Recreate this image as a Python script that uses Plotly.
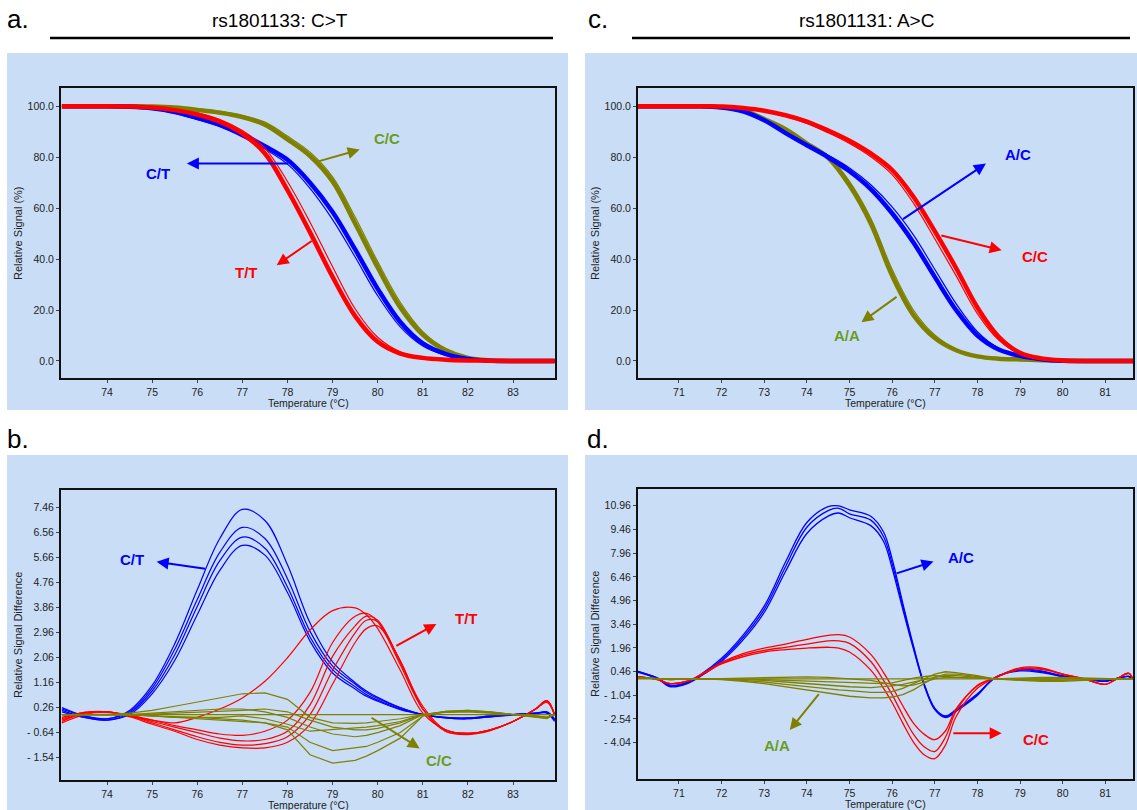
import plotly.graph_objects as go

# ---------------- rs1801133 (C>T): normalised melting curves ----------------
TEMP_A = [73.0, 73.5, 74.0, 74.5, 75.0, 75.5, 76.0, 76.5, 77.0, 77.5, 78.0, 78.5,
          79.0, 79.5, 80.0, 80.5, 81.0, 81.5, 82.0, 82.5, 83.0, 83.5, 83.92]
CC_A = [
    [100, 100, 100, 100, 99.9, 99.5, 98.6, 97.5, 95.8, 92.8, 87.0, 80.5,
     70.5, 54.0, 36.7, 21.0, 10.3, 4.3, 1.2, 0.2, 0, 0, 0],
    [100, 100, 100, 100, 99.9, 99.6, 98.9, 98.0, 96.4, 93.8, 88.3, 82.0,
     72.3, 56.5, 39.0, 23.0, 11.5, 4.8, 1.4, 0.3, 0, 0, 0],
]
CT_A = [
    [100, 100, 100, 99.8, 99.2, 97.8, 95.5, 92.8, 89.0, 84.3, 79.0, 70.0,
     58.5, 43.8, 28.3, 15.3, 6.9, 2.8, 0.8, 0.1, 0, 0, 0],
    [100, 100, 100, 99.7, 98.9, 97.3, 94.8, 92.0, 88.0, 83.2, 77.3, 67.8,
     55.5, 40.8, 25.6, 13.4, 5.9, 2.3, 0.6, 0.1, 0, 0, 0],
]
TT_A = [
    [100, 100, 100, 99.9, 99.5, 98.5, 96.8, 94.0, 89.3, 81.5, 67.1, 50.5,
     33.0, 17.6, 7.5, 2.9, 1.2, 0.5, 0.2, 0.1, 0, 0, 0],
    [100, 100, 100, 99.9, 99.6, 98.8, 97.3, 94.8, 90.5, 83.6, 70.5, 54.5,
     37.0, 20.5, 9.3, 3.6, 1.4, 0.6, 0.2, 0.1, 0, 0, 0],
]

# ---------------- rs1801133 (C>T): difference plot ----------------
TEMP_B = [73.0, 73.5, 74.0, 74.5, 75.0, 75.5, 76.0, 76.5, 77.0, 77.5, 78.0, 78.5,
          79.0, 79.5, 79.75, 80.0, 80.5, 81.0, 81.5, 82.0, 82.5, 83.0, 83.5, 83.75, 83.92]
CT_B = [
    [0.25, -0.05, -0.15, 0.15, 1.05, 2.55, 4.5, 6.35, 7.4, 7.0, 5.4, 3.3,
     1.9, 1.15, 0.85, 0.62, 0.25, 0.0, -0.1, -0.12, -0.05, 0.0, 0.05, 0.1, -0.15],
    [0.2, -0.05, -0.15, 0.1, 0.95, 2.35, 4.15, 5.85, 6.75, 6.35, 4.9, 3.0,
     1.75, 1.1, 0.8, 0.58, 0.24, 0.0, -0.1, -0.12, -0.05, 0.0, 0.05, 0.08, -0.2],
    [0.15, -0.1, -0.2, 0.05, 0.85, 2.15, 3.9, 5.55, 6.4, 6.0, 4.6, 2.8,
     1.62, 1.0, 0.72, 0.52, 0.2, 0.0, -0.12, -0.15, -0.08, 0.0, 0.05, 0.08, -0.2],
    [0.1, -0.1, -0.2, 0.0, 0.75, 1.95, 3.6, 5.2, 6.1, 5.75, 4.4, 2.65,
     1.5, 0.92, 0.66, 0.48, 0.18, 0.0, -0.12, -0.15, -0.08, -0.02, 0.03, 0.05, -0.25],
]
TT_B = [
    [-0.1, 0.08, 0.1, -0.05, -0.2, -0.3, -0.1, 0.2, 0.6, 1.2, 2.05, 3.05,
     3.75, 3.85, 3.6, 3.1, 1.6, 0.05, -0.55, -0.68, -0.55, -0.25, 0.2, 0.5, 0.0],
    [-0.15, 0.08, 0.1, -0.02, -0.2, -0.4, -0.55, -0.7, -0.75, -0.6, -0.2, 0.8,
     2.6, 3.55, 3.65, 3.35, 1.8, 0.2, -0.55, -0.68, -0.55, -0.25, 0.2, 0.5, 0.0],
    [-0.2, 0.05, 0.1, -0.05, -0.25, -0.45, -0.65, -0.85, -0.95, -0.9, -0.6, 0.35,
     2.1, 3.2, 3.55, 3.4, 1.9, 0.3, -0.55, -0.68, -0.55, -0.25, 0.2, 0.5, 0.0],
    [-0.25, 0.05, 0.1, -0.05, -0.3, -0.55, -0.8, -1.0, -1.1, -1.05, -0.8, 0.0,
     1.6, 2.95, 3.4, 3.35, 1.9, 0.2, -0.6, -0.7, -0.55, -0.25, 0.2, 0.45, 0.0],
    [-0.3, 0.0, 0.08, -0.08, -0.35, -0.6, -0.9, -1.1, -1.2, -1.2, -1.0, -0.35,
     1.1, 2.6, 3.1, 3.2, 1.95, 0.2, -0.6, -0.72, -0.58, -0.25, 0.2, 0.45, 0.0],
]
CC_B = [
    [0.0] * 25,
    [0.0, 0.0, 0.0, 0.05, 0.15, 0.3, 0.45, 0.6, 0.75, 0.78, 0.55, -0.1,
     -0.3, -0.32, -0.3, -0.25, -0.15, 0.0, 0.12, 0.15, 0.1, 0.0, -0.05, -0.1, 0.0],
    [0.0, 0.0, 0.0, 0.0, -0.05, -0.1, -0.1, -0.15, -0.2, -0.3, -0.55, -1.45,
     -1.75, -1.65, -1.5, -1.3, -0.85, -0.05, 0.12, 0.15, 0.1, 0.0, -0.1, -0.15, 0.0],
    [0.0, 0.0, 0.0, 0.0, -0.05, -0.1, -0.15, -0.2, -0.25, -0.3, -0.45, -1.0,
     -1.3, -1.2, -1.15, -1.0, -0.65, -0.05, 0.1, 0.12, 0.08, 0.0, -0.08, -0.12, 0.0],
    [0.0, 0.0, 0.0, 0.0, 0.05, 0.1, 0.15, 0.2, 0.2, 0.1, -0.1, -0.45,
     -0.7, -0.8, -0.75, -0.65, -0.4, 0.0, 0.1, 0.12, 0.08, 0.0, -0.05, -0.1, 0.0],
    [0.0, 0.0, 0.0, -0.02, -0.05, -0.08, -0.1, -0.1, -0.05, -0.15, -0.35, -0.6,
     -0.55, -0.5, -0.45, -0.4, -0.25, 0.0, 0.1, 0.12, 0.08, 0.0, -0.05, -0.12, 0.0],
    [0.0, 0.0, 0.0, 0.0, 0.02, 0.05, 0.08, 0.1, 0.15, 0.2, 0.1, -0.2,
     -0.45, -0.55, -0.55, -0.5, -0.3, 0.0, 0.08, 0.1, 0.06, 0.0, -0.05, -0.1, 0.0],
]

# ---------------- rs1801131 (A>C): normalised melting curves ----------------
TEMP_C = [70.0, 70.5, 71.0, 71.5, 72.0, 72.5, 73.0, 73.5, 74.0, 74.5, 75.0, 75.5,
          76.0, 76.5, 77.0, 77.5, 78.0, 78.5, 79.0, 79.5, 80.0, 80.5, 81.0, 81.65]
CC_C = [
    [100, 100, 100, 100, 99.9, 99.3, 98.3, 96.5, 94.0, 90.5, 86.5, 81.5,
     75.0, 64.5, 51.0, 36.5, 21.0, 9.5, 3.2, 1.0, 0.2, 0, 0, 0],
    [100, 100, 100, 100, 99.9, 99.2, 98.0, 96.0, 93.3, 89.6, 85.4, 80.2,
     73.2, 62.0, 48.0, 33.5, 18.6, 8.2, 2.7, 0.8, 0.2, 0, 0, 0],
]
AC_C = [
    [100, 100, 100, 100, 99.5, 98.0, 94.5, 89.5, 84.7, 80.0, 74.5, 67.5,
     58.0, 46.5, 33.0, 20.0, 10.0, 4.5, 2.0, 0.7, 0.1, 0, 0, 0],
    [100, 100, 100, 100, 99.5, 98.1, 94.8, 90.0, 85.3, 80.8, 75.8, 69.2,
     60.5, 49.5, 36.0, 22.5, 11.5, 5.0, 2.1, 0.7, 0.1, 0, 0, 0],
]
AA_C = [
    [100, 100, 100, 100, 99.6, 98.5, 95.0, 91.0, 85.4, 79.8, 69.0, 54.0,
     33.5, 18.0, 9.0, 4.2, 1.8, 0.9, 0.6, 0.3, 0.1, 0, 0, 0],
    [100, 100, 100, 100, 99.6, 98.6, 95.3, 91.5, 86.0, 80.6, 70.5, 56.0,
     36.0, 20.0, 10.2, 4.8, 2.0, 1.0, 0.6, 0.3, 0.1, 0, 0, 0],
]

# ---------------- rs1801131 (A>C): difference plot ----------------
TEMP_D = [70.0, 70.5, 70.8, 71.2, 71.5, 72.0, 72.5, 73.0, 73.5, 74.0, 74.5, 74.75,
          75.0, 75.5, 75.8, 76.0, 76.25, 76.5, 76.75, 77.0, 77.25, 77.5, 78.0, 78.4,
          79.0, 79.5, 80.0, 80.5, 81.0, 81.3, 81.55, 81.65]
AC_D = [
    [0.5, 0.05, -0.4, -0.2, 0.25, 1.3, 2.75, 4.6, 7.4, 9.9, 10.9, 10.95,
     10.7, 10.3, 9.3, 7.6, 4.8, 2.1, -0.3, -1.85, -2.35, -1.95, -0.95, 0.05,
     0.6, 0.5, 0.2, 0.0, -0.15, 0.05, 0.15, 0.05],
    [0.5, 0.05, -0.45, -0.25, 0.2, 1.2, 2.6, 4.4, 7.1, 9.6, 10.65, 10.8,
     10.45, 10.05, 9.0, 7.3, 4.6, 2.0, -0.35, -1.9, -2.4, -2.0, -1.0, 0.05,
     0.55, 0.45, 0.15, 0.0, -0.15, 0.05, 0.15, 0.05],
    [0.45, 0.0, -0.5, -0.3, 0.15, 1.1, 2.45, 4.2, 6.8, 9.2, 10.3, 10.5,
     10.2, 9.7, 8.7, 7.0, 4.4, 1.9, -0.4, -1.95, -2.45, -2.05, -1.05, 0.05,
     0.5, 0.4, 0.15, 0.0, -0.15, 0.05, 0.15, 0.05],
]
CC_D = [
    [0.15, -0.05, -0.3, -0.15, 0.25, 1.05, 1.6, 1.95, 2.2, 2.5, 2.75, 2.8,
     2.65, 1.55, 0.4, -0.5, -1.7, -2.8, -3.5, -3.85, -3.3, -1.9, -0.45, 0.05,
     0.7, 0.7, 0.3, 0.0, -0.35, 0.05, 0.35, -0.05],
    [0.15, -0.05, -0.3, -0.15, 0.25, 1.0, 1.5, 1.8, 2.0, 2.2, 2.4, 2.4,
     2.25, 1.1, -0.1, -1.0, -2.3, -3.5, -4.3, -4.6, -3.7, -2.05, -0.4, 0.05,
     0.65, 0.65, 0.3, 0.0, -0.35, 0.05, 0.35, -0.05],
    [0.15, -0.05, -0.3, -0.15, 0.2, 0.95, 1.4, 1.7, 1.85, 1.95, 2.0, 1.95,
     1.7, 0.55, -0.6, -1.5, -2.8, -4.0, -4.8, -5.05, -4.2, -2.4, -0.6, 0.05,
     0.6, 0.6, 0.3, 0.0, -0.35, 0.05, 0.35, -0.05],
]
AA_D = [
    [0.0] * 32,
    [0.1, 0.0, -0.05, 0.0, 0.0, -0.05, -0.15, -0.3, -0.5, -0.7, -0.9, -1.0,
     -1.1, -1.2, -1.2, -1.15, -1.0, -0.7, -0.3, 0.1, 0.3, 0.3, 0.15, 0.0,
     -0.1, -0.15, -0.15, -0.1, 0.0, 0.0, 0.0, 0.0],
    [0.1, 0.0, -0.05, 0.0, 0.0, -0.03, -0.1, -0.2, -0.35, -0.5, -0.65, -0.7,
     -0.75, -0.85, -0.85, -0.8, -0.6, -0.3, 0.05, 0.3, 0.45, 0.4, 0.2, 0.0,
     -0.05, -0.1, -0.1, -0.05, 0.0, 0.0, 0.0, 0.0],
    [0.1, 0.0, -0.05, 0.0, 0.0, 0.0, -0.05, -0.1, -0.2, -0.3, -0.4, -0.45,
     -0.5, -0.55, -0.5, -0.45, -0.35, -0.2, -0.05, 0.1, 0.2, 0.2, 0.1, 0.0,
     0.05, 0.1, 0.1, 0.05, 0.0, 0.0, 0.0, 0.0],
    [0.05, 0.0, 0.0, 0.0, 0.0, 0.0, 0.0, -0.05, -0.1, -0.15, -0.2, -0.2,
     -0.25, -0.3, -0.3, -0.25, -0.1, 0.05, 0.15, 0.2, 0.15, 0.1, 0.05, 0.0,
     0.0, 0.0, 0.0, 0.0, 0.0, 0.0, 0.0, 0.0],
    [0.05, 0.0, 0.0, 0.0, 0.0, 0.02, 0.05, 0.08, 0.1, 0.12, 0.1, 0.05,
     0.0, -0.1, -0.25, -0.35, -0.45, -0.4, -0.2, 0.0, 0.1, 0.1, 0.05, 0.0,
     -0.05, -0.05, 0.0, 0.0, 0.0, 0.0, 0.0, 0.0],
]

# Axis ticks
XTICKS_AB = [74, 75, 76, 77, 78, 79, 80, 81, 82, 83]
XTICKS_CD = [71, 72, 73, 74, 75, 76, 77, 78, 79, 80, 81]
YTICKS_AC = [0, 20, 40, 60, 80, 100]
YTEXT_AC = ["0.0", "20.0", "40.0", "60.0", "80.0", "100.0"]
YTICKS_B = [-1.54, -0.64, 0.26, 1.16, 2.06, 2.96, 3.86, 4.76, 5.66, 6.56, 7.46]
YTEXT_B = ["- 1.54", "- 0.64", "0.26", "1.16", "2.06", "2.96", "3.86", "4.76",
           "5.66", "6.56", "7.46"]
YTICKS_D = [-4.04, -2.54, -1.04, 0.46, 1.96, 3.46, 4.96, 6.46, 7.96, 9.46, 10.96]
YTEXT_D = ["- 4.04", "- 2.54", "- 1.04", "0.46", "1.96", "3.46", "4.96", "6.46",
           "7.96", "9.46", "10.96"]

# ---------------- styling ----------------
W, H = 1137, 810
RED, BLUE, OLIVE = "#FF0000", "#0000FF", "#808000"
OLIVE_TEXT = "#6B9B1E"
PANEL_BG = "#C9DEF6"
FONT = "Arial, Liberation Sans, sans-serif"


def px(x):
    return x / W


def py(y):
    return 1 - y / H


fig = go.Figure()


def add_group(curves, temps, color, xa, ya, widths, shape="spline"):
    for i, vals in enumerate(curves):
        fig.add_trace(go.Scatter(
            x=temps, y=vals, mode="lines", xaxis=xa, yaxis=ya,
            line=dict(color=color, width=widths[i % len(widths)], shape=shape,
                      smoothing=1.0 if shape == "spline" else None),
            hoverinfo="skip", showlegend=False))


# panel a  (x / y)
add_group(CC_A, TEMP_A, OLIVE, "x", "y", [4.5, 1.2])
add_group(CT_A, TEMP_A, BLUE, "x", "y", [4.5, 1.2])
add_group(TT_A, TEMP_A, RED, "x", "y", [4.5, 1.2])
# panel c  (x2 / y2)
add_group(AA_C, TEMP_C, OLIVE, "x2", "y2", [4.5, 1.2])
add_group(AC_C, TEMP_C, BLUE, "x2", "y2", [4.5, 1.2])
add_group(CC_C, TEMP_C, RED, "x2", "y2", [4.5, 1.2])
# panel b  (x3 / y3)
add_group(CT_B, TEMP_B, BLUE, "x3", "y3", [1.2])
add_group(TT_B, TEMP_B, RED, "x3", "y3", [1.2])
add_group(CC_B, TEMP_B, OLIVE, "x3", "y3", [1.2], shape="linear")
# panel d  (x4 / y4)
add_group(AC_D, TEMP_D, BLUE, "x4", "y4", [1.3])
add_group(CC_D, TEMP_D, RED, "x4", "y4", [1.3])
add_group(AA_D, TEMP_D, OLIVE, "x4", "y4", [1.3], shape="linear")

# plot areas in pixels: (left, top, right, bottom)
BOX_A = (61, 88, 555, 378)
BOX_B = (61, 490, 555, 780)
BOX_C = (638, 88, 1133, 378)
BOX_D = (638, 489, 1133, 779)


def dom(box):
    l, t, r, b = box
    return [px(l), px(r)], [py(b), py(t)]


axis_common = dict(showline=True, mirror=True, linecolor="#111", linewidth=2,
                   ticks="outside", ticklen=3, tickcolor="#444", tickwidth=1,
                   showgrid=False, zeroline=False,
                   tickfont=dict(family=FONT, size=10.5, color="#222"))

layout_axes = {}
for n, box, xr, yr, xt, yt, ytt in [
    ("", BOX_A, [72.98, 83.93], [-6.7, 107.2], XTICKS_AB, YTICKS_AC, YTEXT_AC),
    ("2", BOX_C, [70.04, 81.65], [-6.7, 107.2], XTICKS_CD, YTICKS_AC, YTEXT_AC),
    ("3", BOX_B, [72.98, 83.93], [-2.36, 8.1], XTICKS_AB, YTICKS_B, YTEXT_B),
    ("4", BOX_D, [70.04, 81.65], [-6.34, 12.02], XTICKS_CD, YTICKS_D, YTEXT_D),
]:
    xd, yd = dom(box)
    layout_axes["xaxis" + n] = dict(axis_common, domain=xd, range=xr,
                                    anchor="y" + n, tickvals=xt)
    layout_axes["yaxis" + n] = dict(axis_common, domain=yd, range=yr,
                                    anchor="x" + n, tickvals=yt, ticktext=ytt)

shapes = []
# light-blue panel backgrounds
for l, t, r, b in [(7, 53, 568, 410), (7, 455, 568, 810),
                   (585, 53, 1137, 410), (585, 455, 1137, 810)]:
    shapes.append(dict(type="rect", xref="paper", yref="paper", layer="below",
                       x0=px(l), x1=px(r), y0=py(b), y1=py(t),
                       fillcolor=PANEL_BG, line=dict(width=0)))
# header rules
for x0, x1 in [(50, 553), (632, 1130)]:
    shapes.append(dict(type="line", xref="paper", yref="paper",
                       x0=px(x0), x1=px(x1), y0=py(38), y1=py(38),
                       line=dict(color="#000", width=2.5)))

ann = []


def ptext(x, y, text, size, color="#000", angle=0):
    ann.append(dict(xref="paper", yref="paper", x=px(x), y=py(y), text=text,
                    showarrow=False, xanchor="center", yanchor="middle",
                    textangle=angle,
                    font=dict(family=FONT, size=size, color=color)))


ptext(18, 19, "a.", 26)
ptext(280, 20, "rs1801133: C&gt;T", 19)
ptext(598, 19, "c.", 26)
ptext(866, 20, "rs1801131: A&gt;C", 19)
ptext(18, 439, "b.", 26)
ptext(598, 439, "d.", 26)

# axis titles
for box, ytitle in [(BOX_A, "Relative Signal (%)"), (BOX_C, "Relative Signal (%)"),
                    (BOX_B, "Relative Signal Difference"),
                    (BOX_D, "Relative Signal Difference")]:
    l, t, r, b = box
    ptext((l + r) / 2, b + 25, "Temperature (°C)", 10.5, "#222")
    ptext(l - 43, (t + b) / 2, ytitle, 11, "#222", angle=-90)


def label(xa, ya, x, y, text, color):
    ann.append(dict(xref=xa, yref=ya, x=x, y=y, text="<b>%s</b>" % text,
                    showarrow=False, xanchor="center", yanchor="middle",
                    font=dict(family=FONT, size=15, color=color)))


def arrow(xa, ya, tail, head, color):
    ann.append(dict(xref=xa, yref=ya, axref=xa, ayref=ya,
                    x=head[0], y=head[1], ax=tail[0], ay=tail[1], text="",
                    showarrow=True, arrowhead=2, arrowsize=1.2, arrowwidth=2,
                    arrowcolor=color, standoff=0, startstandoff=0))


# panel a labels
label("x", "y", 75.13, 73.6, "C/T", BLUE)
arrow("x", "y", (78.05, 77.5), (75.77, 77.5), BLUE)
label("x", "y", 80.21, 87.4, "C/C", OLIVE_TEXT)
arrow("x", "y", (78.65, 78.2), (79.6, 83.0), OLIVE)
label("x", "y", 77.09, 34.9, "T/T", RED)
arrow("x", "y", (78.57, 47.5), (77.76, 37.6), RED)
# panel b labels
label("x3", "y3", 74.56, 5.61, "C/T", BLUE)
arrow("x3", "y3", (76.21, 5.25), (75.10, 5.51), BLUE)
label("x3", "y3", 81.97, 3.45, "T/T", RED)
arrow("x3", "y3", (80.38, 2.45), (81.30, 3.27), RED)
label("x3", "y3", 81.35, -1.67, "C/C", OLIVE_TEXT)
arrow("x3", "y3", (79.83, -0.08), (80.93, -1.22), OLIVE)
# panel c labels
label("x2", "y2", 78.96, 81.2, "A/C", BLUE)
arrow("x2", "y2", (76.22, 55.3), (78.2, 77.5), BLUE)
label("x2", "y2", 79.36, 40.9, "C/C", RED)
arrow("x2", "y2", (77.12, 49.4), (78.57, 43.5), RED)
label("x2", "y2", 74.95, 9.8, "A/A", OLIVE_TEXT)
arrow("x2", "y2", (76.14, 25.6), (75.28, 15.2), OLIVE)
# panel d labels
label("x4", "y4", 77.62, 7.70, "A/C", BLUE)
arrow("x4", "y4", (76.07, 6.65), (76.97, 7.43), BLUE)
label("x4", "y4", 79.38, -3.84, "C/C", RED)
arrow("x4", "y4", (77.40, -3.44), (78.57, -3.44), RED)
label("x4", "y4", 73.30, -4.19, "A/A", OLIVE_TEXT)
arrow("x4", "y4", (74.31, -0.87), (73.60, -3.24), OLIVE)

fig.update_layout(
    width=W, height=H, margin=dict(l=0, r=0, t=0, b=0),
    paper_bgcolor="white", plot_bgcolor="white",
    font=dict(family=FONT), showlegend=False,
    shapes=shapes, annotations=ann, **layout_axes)

fig.write_html("out.html")
